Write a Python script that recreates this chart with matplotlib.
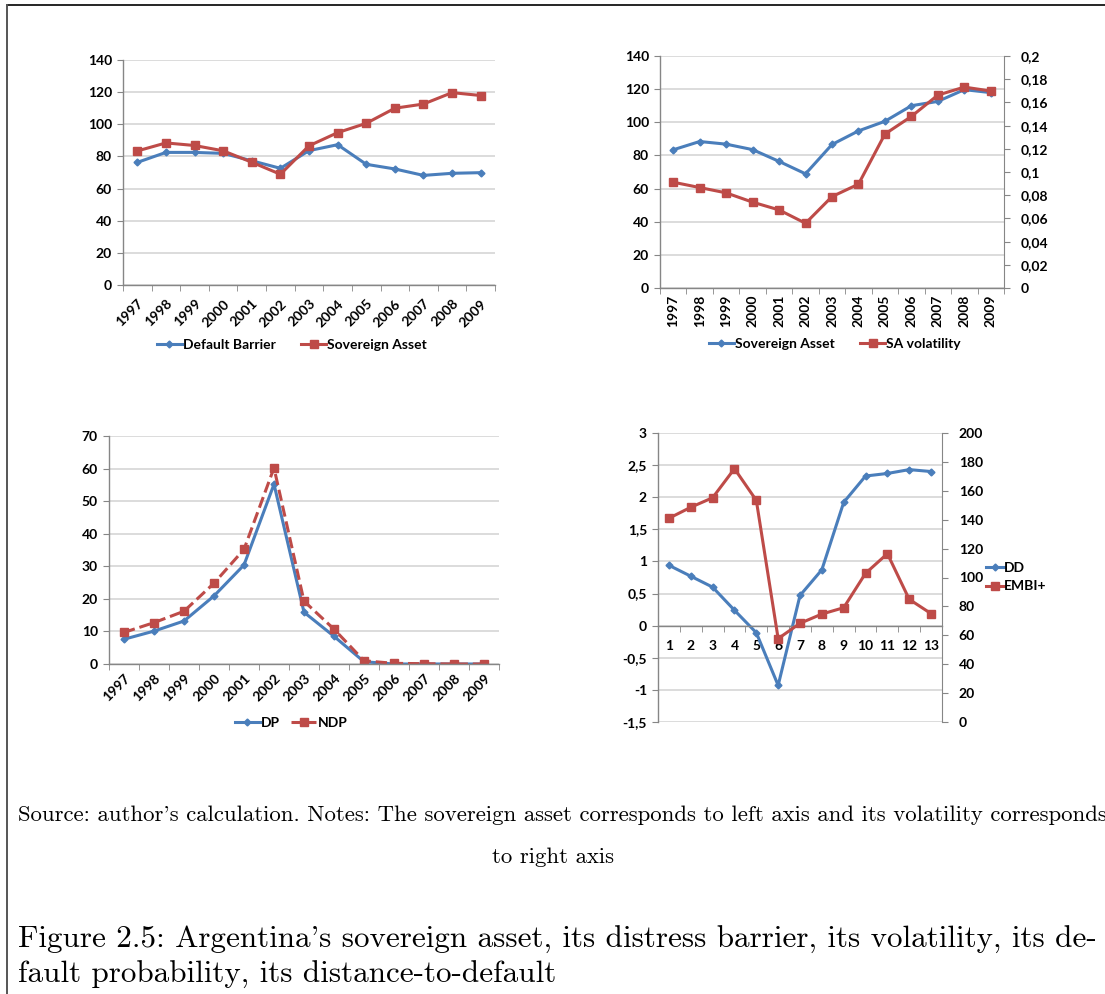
import numpy as np
import matplotlib.pyplot as plt
import matplotlib as mpl
from matplotlib.ticker import FuncFormatter, MultipleLocator
from matplotlib.lines import Line2D

years = ['1997', '1998', '1999', '2000', '2001', '2002', '2003',
         '2004', '2005', '2006', '2007', '2008', '2009']
default_barrier = [76.3, 82.5, 82.5, 81.9, 77.3, 72.6, 83.6, 87.3, 75.1, 72.2, 68.2, 69.5, 69.9]
sovereign_asset = [83.4, 88.4, 86.8, 83.5, 76.4, 68.9, 86.6, 94.8, 100.6, 110.0, 112.6, 119.7, 117.9]
sa_volatility = [0.0912, 0.0866, 0.0820, 0.0740, 0.0673, 0.0558, 0.0788, 0.0895,
                 0.1327, 0.1479, 0.1663, 0.1732, 0.1698]
dp = [7.6, 10.1, 13.2, 20.9, 30.4, 55.2, 15.9, 8.5, 0.7, 0.0, 0.0, 0.0, 0.0]
ndp = [9.7, 12.7, 16.2, 24.8, 35.2, 60.2, 19.3, 10.7, 1.0, 0.2, 0.1, 0.0, 0.0]
periods = ['1', '2', '3', '4', '5', '6', '7', '8', '9', '10', '11', '12', '13']
dd = [0.94, 0.77, 0.60, 0.24, -0.11, -0.93, 0.47, 0.87, 1.92, 2.33, 2.37, 2.43, 2.40]
embi = [141.0, 148.6, 155.2, 175.3, 153.4, 57.7, 68.3, 74.7, 79.1, 102.9, 116.5, 84.9, 75.0]

source_note = ("Source: author's calculation. Notes: The sovereign asset corresponds "
               "to left axis and its volatility corresponds")
source_note2 = "to right axis"
caption1 = "Figure 2.5: Argentina's sovereign asset, its distress barrier, its volatility, its de-"
caption2 = "fault probability, its distance-to-default"

mpl.rcParams["font.family"] = ["Lato", "DejaVu Sans"]
mpl.rcParams["font.weight"] = "bold"
mpl.rcParams["font.size"] = 10

BLUE = '#4A7EBB'
RED = '#BE4B48'
GRID = '#D9D9D9'
AXIS = '#868686'
W, H = 1105, 994

fig = plt.figure(figsize=(W / 100, H / 100), dpi=100)


def rect(l, t, r, b):
    return [l / W, 1 - b / H, (r - l) / W, (b - t) / H]


def comma(v, pos):
    return ('%g' % v).replace('.', ',')


def setup(ax, labels, ylim, ystep):
    n = len(labels)
    ax.set_xlim(-0.5, n - 0.5)
    ax.set_ylim(*ylim)
    ax.yaxis.set_major_locator(MultipleLocator(ystep))
    ax.yaxis.set_major_formatter(FuncFormatter(comma))
    ax.grid(axis='y', color=GRID, lw=1.3)
    ax.set_axisbelow(True)
    for s in ['top', 'right']:
        ax.spines[s].set_visible(False)
    for s in ['left', 'bottom']:
        ax.spines[s].set_color(AXIS)
        ax.spines[s].set_linewidth(1.0)
    ax.set_xticks(range(n))
    ax.set_xticks(np.arange(n + 1) - 0.5, minor=True)
    ax.tick_params(axis='x', which='major', length=0)
    ax.tick_params(axis='x', which='minor', length=4, color=AXIS)
    ax.tick_params(axis='y', length=4, color=AXIS, pad=4)


def blue_line(ax, x, y, **kw):
    return ax.plot(x, y, color=BLUE, lw=2.2, marker='D', ms=3.5, **kw)[0]


def red_line(ax, x, y, **kw):
    return ax.plot(x, y, color=RED, lw=2.2, marker='s', ms=5.5, **kw)[0]


x = np.arange(len(years))

# panel 1
ax1 = fig.add_axes(rect(123, 60, 495, 285))
setup(ax1, years, (0, 140), 20)
ax1.set_xticklabels(years, rotation=45, ha='right', va='top', rotation_mode='anchor')
ax1.tick_params(axis='x', which='major', pad=9)
h1 = blue_line(ax1, x, default_barrier, label='Default Barrier')
h2 = red_line(ax1, x, sovereign_asset, label='Sovereign Asset')
ax1.legend(handles=[h1, h2], loc='center', bbox_to_anchor=(292 / W, 1 - 345 / H),
           bbox_transform=fig.transFigure, ncol=2, frameon=False, handlelength=1.8,
           handletextpad=0.1, columnspacing=1.8)

# panel 2
ax2 = fig.add_axes(rect(660, 56, 1004, 288))
setup(ax2, years, (0, 140), 20)
ax2.set_xticklabels(years, rotation=90, va='top')
ax2.tick_params(axis='x', which='major', pad=5)
ax2b = ax2.twinx()
ax2b.set_ylim(0, 0.2)
ax2b.yaxis.set_major_locator(MultipleLocator(0.02))
ax2b.yaxis.set_major_formatter(FuncFormatter(comma))
for s in ['top', 'left', 'bottom']:
    ax2b.spines[s].set_visible(False)
ax2b.spines['right'].set_color(AXIS)
ax2b.tick_params(axis='y', length=4, color=AXIS, pad=8)
h1 = blue_line(ax2, x, sovereign_asset, label='Sovereign Asset')
h2 = red_line(ax2b, x, sa_volatility, label='SA volatility')
ax2.legend(handles=[h1, h2], loc='center', bbox_to_anchor=(835 / W, 1 - 344 / H),
           bbox_transform=fig.transFigure, ncol=2, frameon=False, handlelength=1.8,
           handletextpad=0.1, columnspacing=1.8)

# panel 3
ax3 = fig.add_axes(rect(109, 436, 499, 664))
setup(ax3, years, (0, 70), 10)
ax3.set_xticklabels(years, rotation=45, ha='right', va='top', rotation_mode='anchor')
ax3.tick_params(axis='x', which='major', pad=6)
h1 = blue_line(ax3, x, dp, label='DP')
h2 = red_line(ax3, x, ndp, ls='--', label='NDP')
ax3.legend(handles=[h1, h2], loc='center', bbox_to_anchor=(291 / W, 1 - 723 / H),
           bbox_transform=fig.transFigure, ncol=2, frameon=False, handlelength=1.8,
           handletextpad=0.1, columnspacing=0.8)

# panel 4
xp = np.arange(len(periods))
ax4 = fig.add_axes(rect(658, 433, 942, 722))
setup(ax4, periods, (-1.5, 3), 0.5)
ax4.set_xticklabels(periods)
ax4.spines['bottom'].set_position(('data', 0))
ax4.tick_params(axis='x', which='major', pad=10)
ax4b = ax4.twinx()
ax4b.set_ylim(0, 200)
ax4b.yaxis.set_major_locator(MultipleLocator(20))
for s in ['top', 'left', 'bottom']:
    ax4b.spines[s].set_visible(False)
ax4b.spines['right'].set_color(AXIS)
ax4b.tick_params(axis='y', length=4, color=AXIS, pad=8)
h1 = blue_line(ax4, xp, dd, label='DD')
h2 = red_line(ax4b, xp, embi, label='EMBI+')
ax4.legend(handles=[h1, h2], loc='center left', bbox_to_anchor=(973 / W, 1 - 577 / H),
           bbox_transform=fig.transFigure, ncol=1, frameon=False, handlelength=1.3,
           handletextpad=0.05, labelspacing=0.5)

# caption
serif = ['cmr10', 'DejaVu Serif']
fig.text(18 / W, 1 - 815 / H, source_note, family=serif, weight='normal',
         fontsize=16.4, va='center', ha='left')
fig.text(553 / W, 1 - 857 / H, source_note2, family=serif, weight='normal',
         fontsize=16.4, va='center', ha='center')
fig.text(18 / W, 1 - 940 / H, caption1, family=serif, weight='normal',
         fontsize=22.4, va='center', ha='left')
fig.text(18 / W, 1 - 975 / H, caption2, family=serif, weight='normal',
         fontsize=22.4, va='center', ha='left')

# page frame
fig.add_artist(Line2D([7 / W, 1], [1 - 5 / H, 1 - 5 / H], color='black', lw=1.2))
fig.add_artist(Line2D([7 / W, 7 / W], [0, 1 - 5 / H], color='#555555', lw=1.4))

fig.savefig('out.png', dpi=100)
